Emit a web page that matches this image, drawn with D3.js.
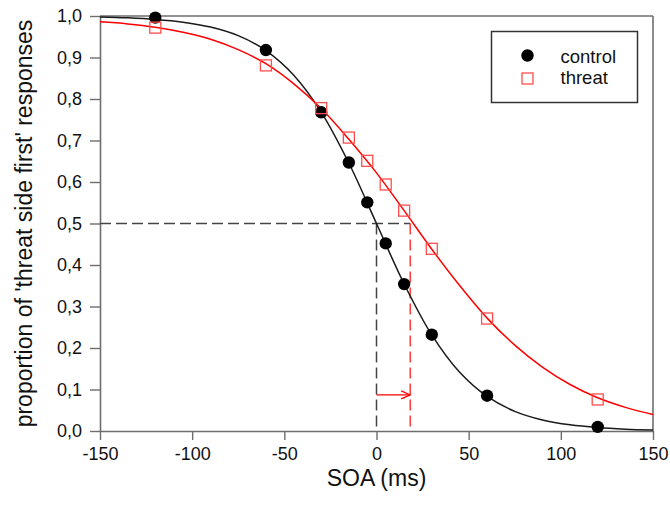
<!DOCTYPE html>
<html>
<head>
<meta charset="utf-8">
<script src="https://cdn.jsdelivr.net/npm/d3@7.9.0/dist/d3.min.js"></script>
<style>
  html, body { margin: 0; padding: 0; background: #fff; }
  svg { display: block; font-family: 'Liberation Sans', Arial, sans-serif; }
</style>
</head>
<body>
<svg id="chart" width="670" height="513"></svg>
<script>
// SOA values and observed proportions
const soa = [-120, -60, -30, -15, -5, 5, 15, 30, 60, 120];
const controlObs = [0.996, 0.918, 0.768, 0.647, 0.551, 0.452, 0.354, 0.232, 0.085, 0.010];
const threatObs = [0.972, 0.881, 0.778, 0.707, 0.651, 0.594, 0.531, 0.439, 0.271, 0.076];

// fitted curves, every 15 ms
const fitX = [-150, -135, -120, -105, -90, -75, -60, -45, -30, -15, 0, 15, 30, 45, 60, 75, 90, 105, 120, 135, 150];
const controlFit = [0.9975, 0.9955, 0.9918, 0.9852, 0.9734, 0.9526, 0.9168, 0.8581, 0.7685, 0.6457, 0.5,
  0.3543, 0.2315, 0.1419, 0.0832, 0.0474, 0.0266, 0.0148, 0.0082, 0.0045, 0.0025];
const threatFit = [0.986, 0.981, 0.973, 0.961, 0.944, 0.919, 0.885, 0.837, 0.777, 0.703, 0.622,
  0.531, 0.438, 0.351, 0.272, 0.207, 0.154, 0.112, 0.080, 0.057, 0.040];

// points of subjective simultaneity and the shift arrow
const controlPSE = 0;
const threatPSE = 18.3;
const arrowLevel = 0.087;

const xTicks = [-150, -100, -50, 0, 50, 100, 150];
const xTickLabels = ['-150', '-100', '-50', '0', '50', '100', '150'];
const yTicks = [0, 0.1, 0.2, 0.3, 0.4, 0.5, 0.6, 0.7, 0.8, 0.9, 1.0];
const yTickLabels = ['0,0', '0,1', '0,2', '0,3', '0,4', '0,5', '0,6', '0,7', '0,8', '0,9', '1,0'];

const legendLabels = ['control', 'threat'];

const area = { left: 100, right: 653, top: 16, bottom: 431 };
const axisColor = '#6e6e6e';
const red = '#ff0000';

const svg = d3.select('#chart');

const x = d3.scaleLinear().domain([-150, 150]).range([area.left, area.right]);
const y = d3.scaleLinear().domain([0, 1]).range([area.bottom, area.top]);

// frame: top and right edges
svg.append('line')
  .attr('x1', area.left).attr('x2', area.right)
  .attr('y1', area.top).attr('y2', area.top)
  .attr('stroke', axisColor).attr('stroke-width', 1.6);
svg.append('line')
  .attr('x1', area.right).attr('x2', area.right)
  .attr('y1', area.top).attr('y2', area.bottom)
  .attr('stroke', axisColor).attr('stroke-width', 1.6);

const xAxis = svg.append('g')
  .attr('transform', `translate(0,${area.bottom})`)
  .call(d3.axisBottom(x).tickValues(xTicks).tickFormat((d, i) => xTickLabels[i])
    .tickSize(9).tickSizeOuter(0).tickPadding(7));

const yAxis = svg.append('g')
  .attr('transform', `translate(${area.left},0)`)
  .call(d3.axisLeft(y).tickValues(yTicks).tickFormat((d, i) => yTickLabels[i])
    .tickSize(10).tickSizeOuter(0).tickPadding(8));

[xAxis, yAxis].forEach((g) => {
  g.select('.domain').attr('stroke', axisColor).attr('stroke-width', 1.6);
  g.selectAll('.tick line').attr('stroke', axisColor).attr('stroke-width', 1.4);
  g.selectAll('.tick text')
    .attr('fill', '#111')
    .style('font-size', '18px')
    .style('font-family', "'Liberation Sans', Arial, sans-serif");
});

// axis titles
svg.append('text')
  .attr('x', (area.left + area.right) / 2)
  .attr('y', 486)
  .attr('text-anchor', 'middle')
  .attr('fill', '#111')
  .style('font-size', '23px')
  .text('SOA (ms)');

svg.append('text')
  .attr('transform', `translate(32,${(area.top + area.bottom) / 2}) rotate(-90)`)
  .attr('text-anchor', 'middle')
  .attr('fill', '#111')
  .style('font-size', '23px')
  .text("proportion of 'threat side first' responses");

// reference dashed lines
const dash = '11,5';
svg.append('line')
  .attr('x1', x(-150)).attr('x2', x(threatPSE))
  .attr('y1', y(0.5)).attr('y2', y(0.5))
  .attr('stroke', '#444').attr('stroke-width', 1.5).attr('stroke-dasharray', dash);
svg.append('line')
  .attr('x1', x(controlPSE)).attr('x2', x(controlPSE))
  .attr('y1', y(0.5)).attr('y2', y(0))
  .attr('stroke', '#444').attr('stroke-width', 1.5).attr('stroke-dasharray', dash);
svg.append('line')
  .attr('x1', x(threatPSE)).attr('x2', x(threatPSE))
  .attr('y1', y(0.5)).attr('y2', y(0))
  .attr('stroke', '#ff3a3a').attr('stroke-width', 1.5).attr('stroke-dasharray', dash);

// shift arrow
const ay = y(arrowLevel);
const ax1 = x(controlPSE);
const ax2 = x(threatPSE);
svg.append('line')
  .attr('x1', ax1).attr('x2', ax2).attr('y1', ay).attr('y2', ay)
  .attr('stroke', red).attr('stroke-width', 1.2);
svg.append('path')
  .attr('d', `M${ax2 - 9},${ay - 4}L${ax2},${ay}L${ax2 - 9},${ay + 4}`)
  .attr('fill', 'none').attr('stroke', red).attr('stroke-width', 1.2);

// fitted curves
const line = d3.line()
  .x((d) => x(d[0]))
  .y((d) => y(d[1]))
  .curve(d3.curveCatmullRom.alpha(0.5));

svg.append('path')
  .datum(fitX.map((v, i) => [v, controlFit[i]]))
  .attr('d', line)
  .attr('fill', 'none').attr('stroke', '#1a1a1a').attr('stroke-width', 1.5);

svg.append('path')
  .datum(fitX.map((v, i) => [v, threatFit[i]]))
  .attr('d', line)
  .attr('fill', 'none').attr('stroke', red).attr('stroke-width', 1.5);

// observations
svg.append('g')
  .selectAll('circle')
  .data(soa.map((v, i) => [v, controlObs[i]]))
  .join('circle')
  .attr('cx', (d) => x(d[0]))
  .attr('cy', (d) => y(d[1]))
  .attr('r', 6.2)
  .attr('fill', '#000');

const sq = 11;
svg.append('g')
  .selectAll('rect')
  .data(soa.map((v, i) => [v, threatObs[i]]))
  .join('rect')
  .attr('x', (d) => x(d[0]) - sq / 2)
  .attr('y', (d) => y(d[1]) - sq / 2)
  .attr('width', sq)
  .attr('height', sq)
  .attr('fill', 'none')
  .attr('stroke', '#ff4d4d')
  .attr('stroke-width', 1.3);

// legend
const legend = svg.append('g');
legend.append('rect')
  .attr('x', 491.5).attr('y', 31.5)
  .attr('width', 146).attr('height', 71)
  .attr('fill', '#fff').attr('stroke', '#333').attr('stroke-width', 1.5);
legend.append('circle')
  .attr('cx', 527.5).attr('cy', 55.5).attr('r', 6.2).attr('fill', '#000');
legend.append('rect')
  .attr('x', 527.5 - sq / 2).attr('y', 78.5 - sq / 2)
  .attr('width', sq).attr('height', sq)
  .attr('fill', 'none').attr('stroke', '#ff4d4d').attr('stroke-width', 1.3);
legend.selectAll('text')
  .data(legendLabels)
  .join('text')
  .attr('x', 560.5)
  .attr('y', (d, i) => 62.5 + i * 21.5)
  .attr('fill', '#111')
  .style('font-size', '18.5px')
  .text((d) => d);
</script>
</body>
</html>
